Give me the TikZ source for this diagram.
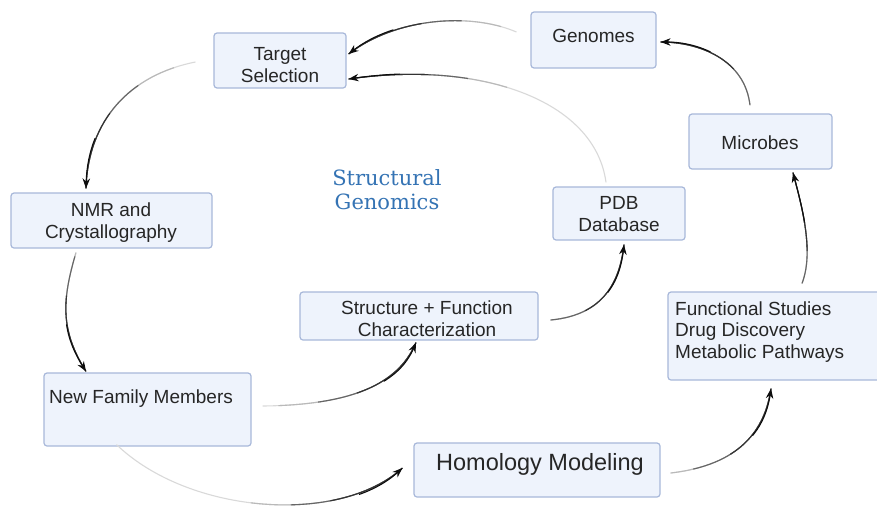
\documentclass[tikz,border=0pt]{standalone}
\usepackage{fontspec}
\setmainfont{Liberation Sans}
\newfontfamily\titlefont{DejaVu Serif}
\usetikzlibrary{arrows.meta,calc}

\definecolor{boxfill}{HTML}{EEF3FC}
\definecolor{boxline}{HTML}{A8B8DA}
\definecolor{titleblue}{HTML}{3473B4}
\definecolor{ink}{HTML}{262626}

\tikzset{
  box/.style={draw=boxline, fill=boxfill, line width=1.2pt, rounded corners=3pt, inner sep=0pt},
  boxtext/.style={text=ink, inner sep=0pt, align=center, font=\fontsize{19}{22}\selectfont},
  link/.style={line width=1.1pt},
}

% A connector that darkens towards its arrow head.
% #1 start, #2 first control, #3 second control, #4 end (arrow tip)
\newcommand\flowlink[4]{%
  \draw[link, draw=gray!30] #4 .. controls #3 and #2 .. #1;
  \draw[link, draw=gray!55, dash pattern=on 160pt off 5000pt] #4 .. controls #3 and #2 .. #1;
  \draw[link, draw=black!60, dash pattern=on 120pt off 5000pt] #4 .. controls #3 and #2 .. #1;
  \draw[link, draw=black!80, dash pattern=on 80pt off 5000pt] #4 .. controls #3 and #2 .. #1;
  \draw[link, draw=black!95, {Stealth[length=10pt,width=7.5pt]}-, dash pattern=on 45pt off 5000pt] #4 .. controls #3 and #2 .. #1;
}

\begin{document}
\begin{tikzpicture}[x=1pt,y=-1pt]
\useasboundingbox (0,0) rectangle (877,509);
\fill[white] (0,0) rectangle (877,509);

% boxes
\node[box, minimum width=125, minimum height=56] (genomes)  at (593.5,40)  {};
\node[box, minimum width=132, minimum height=55] (target)   at (280,60.5)  {};
\node[box, minimum width=143, minimum height=55] (microbes) at (760.5,141.5) {};
\node[box, minimum width=201, minimum height=55] (nmr)      at (111.5,220.5) {};
\node[box, minimum width=132, minimum height=53] (pdb)      at (619,213.5) {};
\node[box, minimum width=238, minimum height=48] (sf)       at (419,316) {};
\node[box, minimum width=222, minimum height=88] (func)     at (779,336) {};
\node[box, minimum width=207, minimum height=73] (newfam)   at (147.5,409.5) {};
\node[box, minimum width=246, minimum height=54] (homol)    at (537,470) {};

% box texts (base anchor = baseline of the last line)
\node[boxtext, anchor=base] (genomes-t)  at (593.5,42) {Genomes};
\node[boxtext, anchor=base] (target-t)   at (280,82) {Target\\Selection};
\node[boxtext, anchor=base] (microbes-t) at (760,149) {Microbes};
\node[boxtext, anchor=base] (nmr-t)      at (111,238) {NMR and\\Crystallography};
\node[boxtext, anchor=base] (pdb-t)      at (619,231) {PDB\\Database};
\node[boxtext, anchor=base] (sf-t)       at (427,336) {Structure + Function\\Characterization};
\node[boxtext, anchor=base west, align=left, font=\fontsize{19}{21.5}\selectfont]
     (func-t) at (675,358) {Functional Studies\\Drug Discovery\\Metabolic Pathways};
\node[boxtext, anchor=base west] (newfam-t) at (49,403) {New Family Members};
\node[boxtext, anchor=base, font=\fontsize{23.5}{26}\selectfont] (homol-t) at (540,470) {Homology Modeling};

% title
\node[inner sep=0pt, align=center, text=titleblue, font=\titlefont\fontsize{21}{24}\selectfont, anchor=base]
     (title) at (387,209) {Structural\\Genomics};

% connectors
\flowlink{($(genomes.west)+(-14,-8)$)}{(470,12)}{(395,18)}{($(target.east)+(2,-6.5)$)}
\flowlink{($(pdb.north)+(-13,-4)$)}{(595,100)}{(480,60)}{($(target.east)+(2,18.5)$)}
\flowlink{($(target.west)+(-18,1.5)$)}{(130,75)}{(88,120)}{($(nmr.north)+(-25.5,-4)$)}
\flowlink{($(nmr.south)+(-35.5,4)$)}{(62,300)}{(60,330)}{($(newfam.north)+(-61.5,-1)$)}
\flowlink{($(newfam.east)+(11,-3.5)$)}{(360,405)}{(400,380)}{($(sf.south)+(-3,2)$)}
\flowlink{($(sf.east)+(12,4)$)}{(605,315)}{(620,280)}{($(pdb.south)+(5,4)$)}
\flowlink{($(newfam.south)+(-31,-2)$)}{(190,515)}{(340,525)}{($(homol.west)+(-11,-2)$)}
\flowlink{($(homol.east)+(10,3)$)}{(740,465)}{(765,430)}{($(func.south)+(-8,8)$)}
\flowlink{($(func.north)+(23,-8)$)}{(815,250)}{(800,200)}{($(microbes.south)+(32.5,3)$)}
\flowlink{($(microbes.north)+(-10.5,-8)$)}{(745,60)}{(700,42)}{($(genomes.east)+(4,2)$)}
\end{tikzpicture}
\end{document}
